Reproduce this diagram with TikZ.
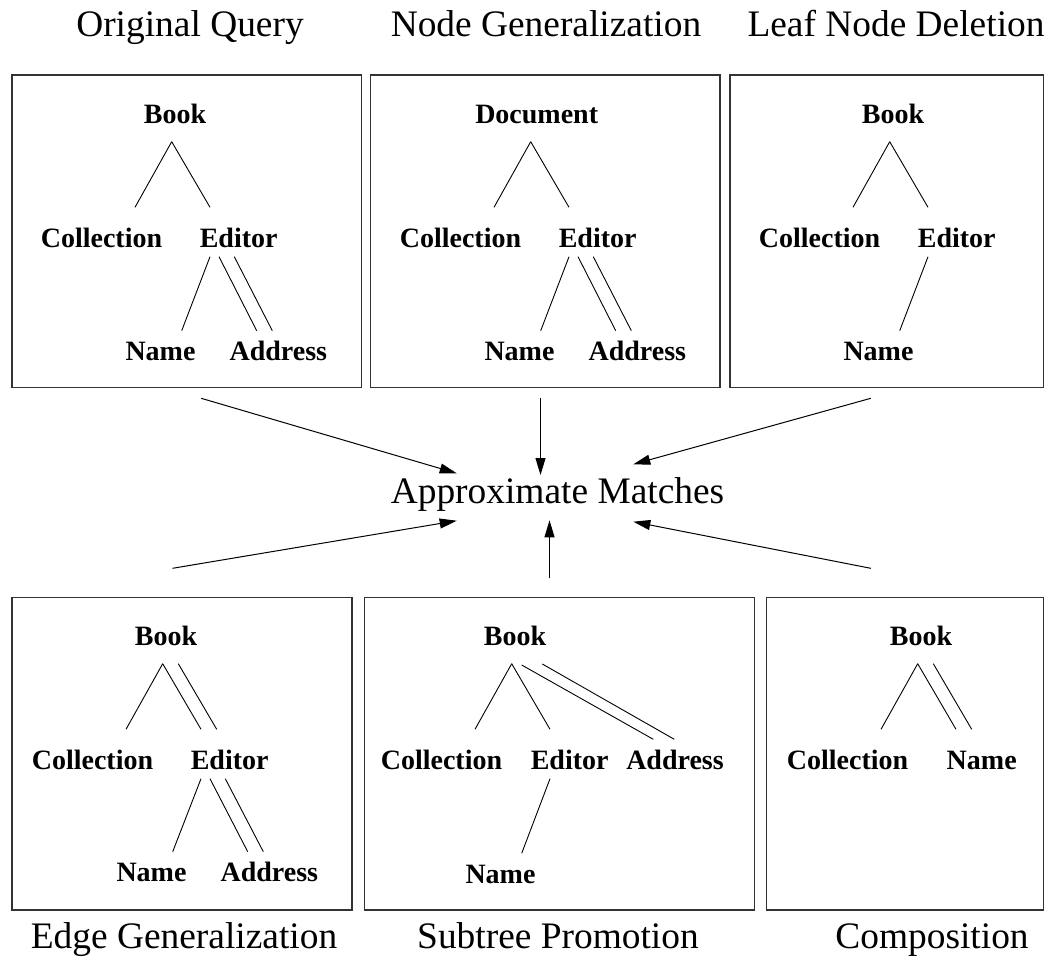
\documentclass[tikz,border=0pt]{standalone}
\usepackage{fontspec}
\setmainfont{Liberation Serif}
\usetikzlibrary{arrows.meta}

\begin{document}
\begin{tikzpicture}[x=1pt,y=-1pt,
  ttl/.style={font=\fontsize{37.4}{40}\selectfont, anchor=base, inner sep=0pt},
  lab/.style={font=\fontsize{28}{30}\selectfont\bfseries, anchor=base, inner sep=0pt},
  frame/.style={draw=black!80, line width=1.3pt},
  edge/.style={line width=0.9pt},
  arr/.style={line width=1pt, -{Triangle[length=17pt,width=10pt]}},
]
\useasboundingbox (0,0) rectangle (1051,966);

% panel titles
\node[ttl] (t-orig)  at (190,36.7)  {Original Query};
\node[ttl] (t-ngen)  at (546,36.7)  {Node Generalization};
\node[ttl] (t-leaf)  at (896,36.7)  {Leaf Node Deletion};
\node[ttl] (t-egen)  at (184,948.3) {Edge Generalization};
\node[ttl] (t-sub)   at (558,948.3) {Subtree Promotion};
\node[ttl] (t-comp)  at (932,948.3) {Composition};

% panel frames
\draw[frame] (12,75) rectangle (361.5,387.5);
\draw[frame] (370.7,75) rectangle (720,387.5);
\draw[frame] (730,75) rectangle (1043.5,387.5);
\draw[frame] (12,597.3) rectangle (352,910);
\draw[frame] (364.3,597.3) rectangle (754.3,910);
\draw[frame] (766.7,597.3) rectangle (1043.5,910);

% original query
\begin{scope}
\node[lab] (q-book) at (175,123) {Book};
\node[lab] (q-coll) at (101.5,247) {Collection};
\node[lab] (q-edit) at (238.7,247) {Editor};
\node[lab] (q-name) at (160.5,360) {Name};
\node[lab] (q-addr) at (278.3,360) {Address};
\draw[edge] ([shift={(-3.3,18.7)}]q-book.base) -- ([shift={(33.5,-39.7)}]q-coll.base);
\draw[edge] ([shift={(-3.3,18.7)}]q-book.base) -- ([shift={(-28.7,-39.7)}]q-edit.base);
\draw[edge] ([shift={(-28.7,9.7)}]q-edit.base) -- ([shift={(21.2,-29.3)}]q-name.base);
\draw[edge] ([shift={(-19.7,9.7)}]q-edit.base) -- ([shift={(-21.6,-29.3)}]q-addr.base);
\draw[edge] ([shift={(-4.4,9.7)}]q-edit.base) -- ([shift={(-6,-29.3)}]q-addr.base);
\end{scope}

% node generalization
\begin{scope}[shift={(359,0)}]
\node[lab] (n-doc)  at (177.7,123) {Document};
\node[lab] (n-coll) at (101.5,247) {Collection};
\node[lab] (n-edit) at (238.7,247) {Editor};
\node[lab] (n-name) at (160.5,360) {Name};
\node[lab] (n-addr) at (278.3,360) {Address};
\draw[edge] ([shift={(-6,18.7)}]n-doc.base) -- ([shift={(33.5,-39.7)}]n-coll.base);
\draw[edge] ([shift={(-6,18.7)}]n-doc.base) -- ([shift={(-28.7,-39.7)}]n-edit.base);
\draw[edge] ([shift={(-28.7,9.7)}]n-edit.base) -- ([shift={(21.2,-29.3)}]n-name.base);
\draw[edge] ([shift={(-19.7,9.7)}]n-edit.base) -- ([shift={(-21.6,-29.3)}]n-addr.base);
\draw[edge] ([shift={(-4.4,9.7)}]n-edit.base) -- ([shift={(-6,-29.3)}]n-addr.base);
\end{scope}

% leaf node deletion
\begin{scope}[shift={(718,0)}]
\node[lab] (l-book) at (175,123) {Book};
\node[lab] (l-coll) at (101.5,247) {Collection};
\node[lab] (l-edit) at (238.7,247) {Editor};
\node[lab] (l-name) at (160.5,360) {Name};
\draw[edge] ([shift={(-3.3,18.7)}]l-book.base) -- ([shift={(33.5,-39.7)}]l-coll.base);
\draw[edge] ([shift={(-3.3,18.7)}]l-book.base) -- ([shift={(-28.7,-39.7)}]l-edit.base);
\draw[edge] ([shift={(-28.7,9.7)}]l-edit.base) -- ([shift={(21.2,-29.3)}]l-name.base);
\end{scope}

% edge generalization
\begin{scope}[shift={(-9,522)}]
\node[lab] (e-book) at (175,123) {Book};
\node[lab] (e-coll) at (101.5,247) {Collection};
\node[lab] (e-edit) at (238.7,247) {Editor};
\node[lab] (e-name) at (160.5,359) {Name};
\node[lab] (e-addr) at (278.3,359) {Address};
\draw[edge] ([shift={(-3.3,18.7)}]e-book.base) -- ([shift={(33.5,-39.7)}]e-coll.base);
\draw[edge] ([shift={(-3.3,18.7)}]e-book.base) -- ([shift={(-28.7,-39.7)}]e-edit.base);
\draw[edge] ([shift={(12.3,18.7)}]e-book.base) -- ([shift={(-13,-39.7)}]e-edit.base);
\draw[edge] ([shift={(-28.7,9.7)}]e-edit.base) -- ([shift={(21.2,-29.3)}]e-name.base);
\draw[edge] ([shift={(-19.7,9.7)}]e-edit.base) -- ([shift={(-21.6,-29.3)}]e-addr.base);
\draw[edge] ([shift={(-4.4,9.7)}]e-edit.base) -- ([shift={(-6,-29.3)}]e-addr.base);
\end{scope}

% subtree promotion
\begin{scope}[shift={(340,522)}]
\node[lab] (s-book) at (175,123) {Book};
\node[lab] (s-coll) at (101.5,247) {Collection};
\node[lab] (s-edit) at (229.7,247) {Editor};
\node[lab] (s-addr) at (335,247) {Address};
\node[lab] (s-name) at (160.5,361) {Name};
\draw[edge] ([shift={(-3.3,18.7)}]s-book.base) -- ([shift={(33.5,-39.7)}]s-coll.base);
\draw[edge] ([shift={(-3.3,18.7)}]s-book.base) -- ([shift={(-19.7,-39.7)}]s-edit.base);
\draw[edge] ([shift={(6.7,20)}]s-book.base) -- ([shift={(-21.7,-29.7)}]s-addr.base);
\draw[edge] ([shift={(27.3,19)}]s-book.base) -- ([shift={(-0.7,-29.7)}]s-addr.base);
\draw[edge] ([shift={(-19.7,9.7)}]s-edit.base) -- ([shift={(21.2,-29.7)}]s-name.base);
\end{scope}

% composition
\begin{scope}[shift={(746,522)}]
\node[lab] (c-book) at (175,123) {Book};
\node[lab] (c-coll) at (101.5,247) {Collection};
\node[lab] (c-name) at (235.7,247) {Name};
\draw[edge] ([shift={(-3.3,18.7)}]c-book.base) -- ([shift={(33.5,-39.7)}]c-coll.base);
\draw[edge] ([shift={(-3.3,18.7)}]c-book.base) -- ([shift={(-25.7,-39.7)}]c-name.base);
\draw[edge] ([shift={(12.3,18.7)}]c-book.base) -- ([shift={(-10,-39.7)}]c-name.base);
\end{scope}

% approximate matches and the arrows into it
\node[ttl] (am) at (557.5,503.3) {Approximate Matches};
\coordinate (from-orig) at (201.2,398.3);
\coordinate (from-ngen) at (540.5,398.3);
\coordinate (from-leaf) at (870.8,398.3);
\coordinate (from-egen) at (172.5,568.3);
\coordinate (from-sub)  at (549.5,578.3);
\coordinate (from-comp) at (870.8,568.3);
\draw[arr] (from-orig) -- ([shift={(-100.8,-30)}]am.base);
\draw[arr] (from-ngen) -- ([shift={(-17,-28.3)}]am.base);
\draw[arr] (from-leaf) -- ([shift={(75.8,-39)}]am.base);
\draw[arr] (from-egen) -- ([shift={(-100.8,17.4)}]am.base);
\draw[arr] (from-sub)  -- ([shift={(-8,17)}]am.base);
\draw[arr] (from-comp) -- ([shift={(75.8,18.4)}]am.base);
\end{tikzpicture}
\end{document}
